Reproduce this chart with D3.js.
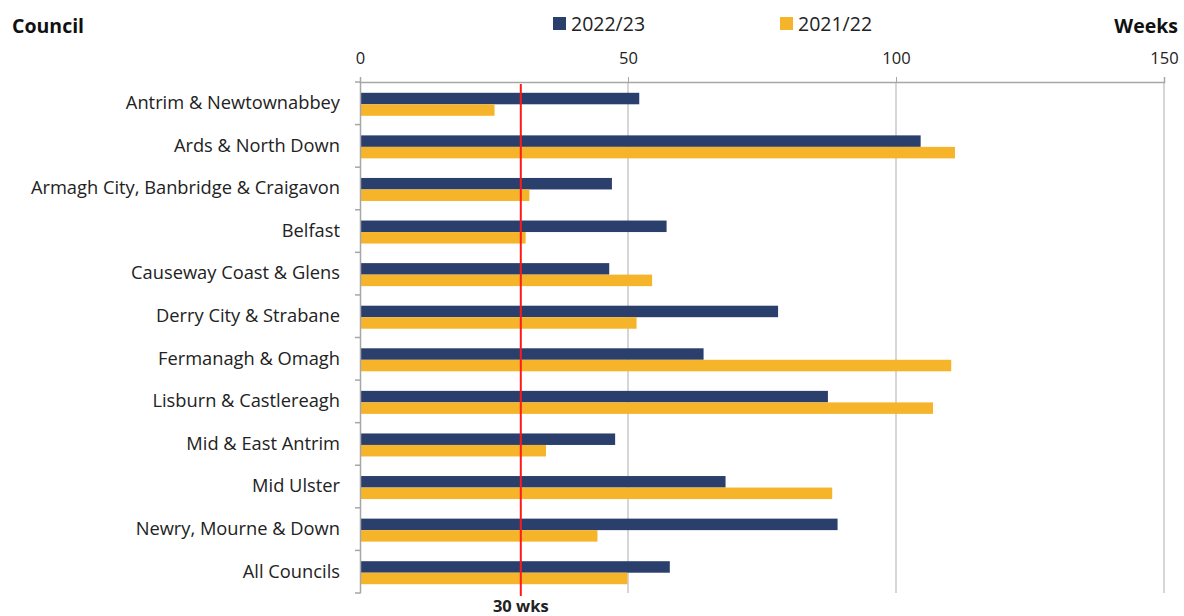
<!DOCTYPE html>
<html><head><meta charset="utf-8">
<script src="https://cdn.jsdelivr.net/npm/d3@7"></script>
<style>body{margin:0;background:#fff;} svg{display:block;font-family:"Open Sans",sans-serif;}</style>
</head><body>
<svg id="chart" width="1184" height="616"></svg>
<script>
const councils = ["Antrim & Newtownabbey","Ards & North Down","Armagh City, Banbridge & Craigavon","Belfast","Causeway Coast & Glens","Derry City & Strabane","Fermanagh & Omagh","Lisburn & Castlereagh","Mid & East Antrim","Mid Ulster","Newry, Mourne & Down","All Councils"];
const series = ["2022/23","2021/22"];
const values2223 = [52.1,104.6,47.0,57.2,46.5,78.0,64.1,87.3,47.6,68.2,89.1,57.8];
const values2122 = [25.1,111.0,31.6,30.9,54.5,51.6,110.3,106.9,34.7,88.1,44.3,49.9];
const xTicks = [0,50,100,150];
const target = 30;
const targetLabel = "30 wks";
const colors = ["#2b3f6d","#f6b42a"];

const svg = d3.select("#chart");
const m = {left:360, right:1164, top:82, bottom:593};
const x = d3.scaleLinear().domain([0,150]).range([m.left,m.right]);
const y = d3.scaleBand().domain(councils).range([m.top,m.bottom]).paddingInner(0).paddingOuter(0);
const inner = d3.scaleBand().domain(series).range([0,23]);
const off = (y.bandwidth()-23)/2 + 1;

// gridlines
svg.append("g").selectAll("line").data(xTicks.slice(1)).join("line")
  .attr("x1",d=>x(d)).attr("x2",d=>x(d)).attr("y1",m.top).attr("y2",m.bottom)
  .attr("stroke","#c8c8c8").attr("stroke-width",1.5);

// top axis
const xa = svg.append("g").attr("transform",`translate(0,${m.top})`)
  .call(d3.axisTop(x).tickValues(xTicks).tickSize(5).tickPadding(13));
xa.select(".domain").attr("stroke","#a6a6a6").attr("stroke-width",1.5);
xa.selectAll(".tick line").attr("stroke","#a6a6a6");
xa.selectAll(".tick text").attr("font-size",16.5).attr("fill","#222").attr("font-family","Open Sans");

// bars
const rows = councils.map((c,i)=>({c, vals:[values2223[i],values2122[i]]}));
const g = svg.append("g");
rows.forEach(r=>{
  series.forEach((s,j)=>{
    g.append("rect")
      .attr("x",x(0)).attr("y",y(r.c)+off+inner(s))
      .attr("width",x(r.vals[j])-x(0)).attr("height",inner.bandwidth())
      .attr("fill",colors[j]);
  });
});

// left axis
const ya = svg.append("g").attr("transform",`translate(${m.left},0)`)
  .call(d3.axisLeft(y).tickSize(0).tickPadding(20));
ya.select(".domain").attr("stroke","#a6a6a6").attr("stroke-width",1.5);
ya.selectAll(".tick text").attr("font-size",18.3).attr("fill","#222").attr("font-family","Open Sans");
// boundary ticks
const bounds = councils.map(c=>y(c)).concat([m.bottom]);
svg.append("g").selectAll("line").data(bounds).join("line")
  .attr("x1",m.left-5).attr("x2",m.left).attr("y1",d=>d).attr("y2",d=>d)
  .attr("stroke","#a6a6a6").attr("stroke-width",1.5);

// target line
svg.append("line").attr("x1",x(target)).attr("x2",x(target)).attr("y1",m.top+2).attr("y2",m.bottom+3)
  .attr("stroke","#ff1a1a").attr("stroke-width",2);
svg.append("text").attr("x",x(target)).attr("y",612).attr("text-anchor","middle")
  .attr("font-size",16.5).attr("font-weight","bold").attr("fill","#222").text(targetLabel);

// titles
svg.append("text").attr("x",12).attr("y",33).attr("font-size",19.5).attr("font-weight","bold").attr("fill","#111").text("Council");
svg.append("text").attr("x",1178).attr("y",33).attr("text-anchor","end").attr("font-size",19.5).attr("font-weight","bold").attr("fill","#111").text("Weeks");

// legend
const legX = [553,780];
series.forEach((s,j)=>{
  svg.append("rect").attr("x",legX[j]).attr("y",17).attr("width",13).attr("height",13).attr("fill",colors[j]);
  svg.append("text").attr("x",legX[j]+18).attr("y",31).attr("font-size",19.5).attr("fill","#222").text(s);
});
</script>
</body></html>
